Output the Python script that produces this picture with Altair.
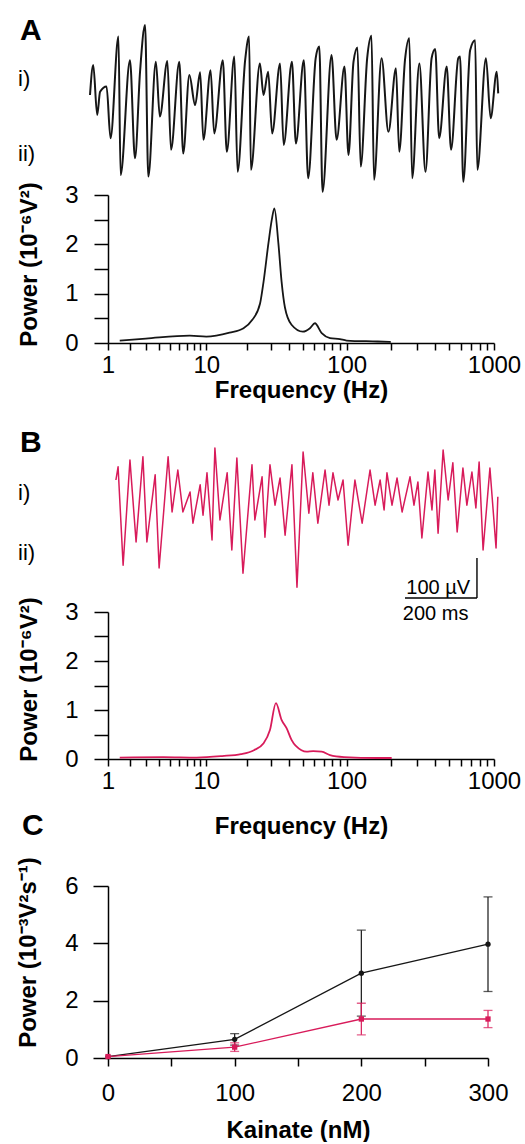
import altair as alt
import pandas as pd

FONT = "Liberation Sans"
BLACK = "#161616"
RED = "#d81b5a"

# ---------------- Panel A i): field potential trace (time in ms, voltage in µV)
traceA_t = [0, 9, 20, 28, 46, 57, 79, 85, 111, 125, 139, 153, 162, 183, 194, 215, 225, 248,
            259, 276, 292, 306, 315, 335, 345, 369, 380, 401, 410, 431, 442, 447, 472, 482,
            495, 506, 528, 538, 561, 572, 594, 606, 627, 637, 646, 671, 685, 707, 718, 732,
            743, 752, 770, 782, 789, 810, 829, 850, 859, 875, 887, 895, 915, 932, 949, 959,
            970, 991, 1003, 1023, 1028, 1037, 1056, 1070, 1076, 1100, 1113, 1130, 1134]
traceA_v = [0, 75, -50, 8, 21, -108, 146, -200, 87, -158, 58, 175, -204, 83, -54, 85, -137, 83,
            -146, 50, -25, 57, -112, 62, -96, 87, -142, 96, -192, 87, 146, -187, 79, 0,
            58, -96, 79, -125, 83, -121, 87, -208, 92, 121, -242, 100, -112, 71, -150, 83,
            119, -179, 92, 148, -212, 92, -92, 67, -142, 87, 142, -208, 79, -192, 92, 115,
            -108, 71, -137, 92, 96, -217, 112, 137, -187, 92, -58, 58, 4]

# ---------------- Panel B i): field potential trace (time in ms, voltage in µV)
traceB_t = [72, 78, 92, 111, 128, 147, 158, 181, 192, 217, 228, 244, 258, 278, 286, 306, 314,
            325, 339, 347, 361, 381, 394, 408, 425, 450, 458, 478, 486, 500, 514, 528, 542,
            561, 575, 592, 608, 619, 633, 653, 664, 675, 689, 703, 717, 736, 756, 778, 792,
            806, 817, 825, 839, 853, 867, 889, 900, 911, 922, 939, 950, 958, 967, 981, 995,
            1008, 1020, 1036, 1047, 1061, 1072, 1081, 1092, 1111, 1128, 1133]
traceB_v = [50, 83, -163, 100, -105, 108, -105, 63, -170, 108, -30, 75, -30, 20, -58, 38, -38,
            68, -100, 130, -50, 68, -125, 105, -183, 88, -50, 58, -93, 88, -13, 55, -88,
            88, -218, 120, -33, 68, -58, 75, -13, 68, 0, 50, -113, 50, -58, 75, -13,
            50, -25, 68, -13, 55, -30, 58, -13, 45, -95, 70, -25, 75, -83, 125, 0,
            93, -80, 80, -13, 70, -20, 95, -125, 80, -120, 8]

# scale bar (200 ms, 100 µV)
bar_t_end = 1075
bar_v_low = -245
bar_ms = 200
bar_uv = 100

# ---------------- Panel A ii) / B ii): power spectra (frequency Hz, power 1e-6 V^2)
specA_f = [1.5, 3.0, 7.4, 10, 15, 19, 22, 25, 26.5, 28.7, 30.3, 31.6, 33.7, 35.5, 37.5, 41.7,
           50, 56, 60.6, 67.5, 77, 90, 100, 163, 200]
specA_p = [0.05, 0.09, 0.15, 0.13, 0.21, 0.30, 0.47, 0.80, 1.25, 2.03, 2.50, 2.73, 2.03, 1.25,
           0.72, 0.37, 0.23, 0.30, 0.40, 0.20, 0.10, 0.08, 0.05, 0.03, 0.02]
specB_f = [1.5, 4.4, 8.4, 13.2, 18.2, 22.6, 26.5, 29.4, 32.4, 35.5, 38.5, 41.7, 48.9, 53, 59,
           67.5, 77, 96, 163, 203]
specB_p = [0.03, 0.04, 0.03, 0.06, 0.10, 0.18, 0.32, 0.59, 1.14, 0.80, 0.63, 0.39, 0.18, 0.15,
           0.16, 0.15, 0.08, 0.04, 0.02, 0.02]

freq_ticks = [1, 2, 3, 4, 5, 6, 7, 8, 9, 10, 20, 30, 40, 50, 60, 70, 80, 90,
              100, 200, 300, 400, 500, 600, 700, 800, 900, 1000]
power_ticks = [0, 0.5, 1, 1.5, 2, 2.5, 3]

# ---------------- Panel C: power vs kainate
kainate = [0, 100, 200, 300]
black_mean = [0.05, 0.65, 2.96, 3.97]
black_sem = [0, 0.2, 1.5, 1.65]
red_mean = [0.05, 0.38, 1.36, 1.36]
red_sem = [0, 0.15, 0.55, 0.3]


def label(text, x, y, size, bold=False, align="left"):
    return alt.Chart(pd.DataFrame({"s": [text]})).mark_text(
        align=align, baseline="alphabetic", fontSize=size, font=FONT,
        fontWeight="bold" if bold else "normal", color="black"
    ).encode(text="s:N", x=alt.value(x), y=alt.value(y))


def trace(t, v, color, ydom, height, width_px=1.6, interp="linear"):
    df = pd.DataFrame({"t": t, "v": v})
    return alt.Chart(df).mark_line(color=color, strokeWidth=width_px, interpolate=interp,
                                   strokeJoin="round").encode(
        x=alt.X("t:Q", scale=alt.Scale(domain=[50, 1139], nice=False, zero=False), axis=None),
        y=alt.Y("v:Q", scale=alt.Scale(domain=ydom, nice=False, zero=False), axis=None),
    ).properties(width=392, height=height)


def spectrum(f, p, color, height, title_x_y, title_y_y):
    df = pd.DataFrame({"f": f, "p": p})
    return alt.Chart(df).mark_line(color=color, strokeWidth=1.8, interpolate="monotone").encode(
        x=alt.X("f:Q",
                scale=alt.Scale(type="symlog", constant=1.5, domain=[1, 1000], nice=False, zero=False),
                axis=alt.Axis(values=freq_ticks, tickSize=7, labelPadding=3, labelFlush=False,
                              labelOverlap=False,
                              labelExpr="(datum.value == 1 || datum.value == 10 || datum.value == 100 || datum.value == 1000) ? format(datum.value, 'd') : ''",
                              title="Frequency (Hz)", titleY=title_x_y, titleBaseline="alphabetic")),
        y=alt.Y("p:Q", scale=alt.Scale(domain=[0, 3], nice=False, zero=False),
                axis=alt.Axis(values=power_ticks, tickSize=14, labelPadding=16, labelFlush=False,
                              labelExpr="datum.value % 1 == 0 ? format(datum.value, 'd') : ''",
                              title="Power (10⁻⁶V²)", titleX=-72, titleY=title_y_y,
                              titleBaseline="alphabetic")),
    ).properties(width=386, height=height)


# ---- Panel A trace with labels
anchor = alt.Chart(pd.DataFrame({"a": [0]})).mark_rect(opacity=0).encode(
    x=alt.value(-108), x2=alt.value(-107), y=alt.value(-20), y2=alt.value(-19))
p1 = alt.layer(
    trace(traceA_t, traceA_v, BLACK, [-250, 187.5], 175, 2.0, "monotone"),
    anchor,
    label("A", -88, 20, 30, True),
    label("i)", -90, 66, 22),
    label("ii)", -90, 141, 22),
)

p2 = spectrum(specA_f, specA_p, BLACK, 148, 54, 69)

# ---- Panel B trace with scale bar and labels
bar_df = pd.DataFrame({
    "t": [bar_t_end, bar_t_end - bar_ms],
    "t2": [bar_t_end, bar_t_end],
    "v": [bar_v_low + bar_uv, bar_v_low],
    "v2": [bar_v_low, bar_v_low],
})
bar = alt.Chart(bar_df).mark_rule(color="black", strokeWidth=1.4).encode(
    x="t:Q", x2="t2:Q", y="v:Q", y2="v2:Q")
bar_txt = pd.DataFrame({"t": [bar_t_end - 19, bar_t_end - 206], "v": [bar_v_low + 10, bar_v_low - 55],
                        "s": ["100 µV", "200 ms"]})
bar_t1 = alt.Chart(bar_txt.iloc[[0]]).mark_text(align="right", baseline="alphabetic", fontSize=20,
                                                 font=FONT, color="black").encode(
    x="t:Q", y="v:Q", text="s:N")
bar_t2 = alt.Chart(bar_txt.iloc[[1]]).mark_text(align="left", baseline="alphabetic", fontSize=20,
                                                 font=FONT, color="black").encode(
    x="t:Q", y="v:Q", text="s:N")
p3 = alt.layer(
    trace(traceB_t, traceB_v, RED, [-280, 392.5], 269, 1.5, "linear"),
    bar, bar_t1, bar_t2,
    label("B", -88, 109, 30, True),
    label("i)", -90, 157, 22),
    label("ii)", -90, 217, 22),
)

p4 = spectrum(specB_f, specB_p, RED, 147, 74, 67)

spacer = alt.Chart(pd.DataFrame({"a": [0]})).mark_rect(opacity=0).encode(
    x=alt.value(0), y=alt.value(0)).properties(width=1, height=127)

# ---- Panel C
xC = alt.X("k:Q", scale=alt.Scale(domain=[0, 300], nice=False),
           axis=alt.Axis(values=[0, 50, 100, 150, 200, 250, 300], tickSize=8, labelPadding=15,
                         labelFlush=False, labelExpr="datum.value % 100 == 0 ? datum.label : ''",
                         title="Kainate (nM)", titleY=79, titleBaseline="alphabetic"))
yC = alt.Y("m:Q", scale=alt.Scale(domain=[0, 6], nice=False),
           axis=alt.Axis(values=[0, 1, 2, 3, 4, 5, 6], tickSize=15, labelPadding=15, labelFlush=False,
                         labelExpr="datum.value % 2 == 0 ? datum.label : ''",
                         title="Power (10⁻³V²s⁻¹)", titleX=-73, titleY=66, titleBaseline="alphabetic"))


def series(mean, sem, color, shape, size):
    df = pd.DataFrame({"k": kainate, "m": mean, "e": sem})
    df["lo"] = df["m"] - df["e"]
    df["hi"] = df["m"] + df["e"]
    base = alt.Chart(df)
    line = base.mark_line(color=color, strokeWidth=1.3).encode(x=xC, y=yC)
    pts = base.mark_point(color=color, filled=True, opacity=1, shape=shape, size=size).encode(x="k:Q", y="m:Q")
    err = base.transform_filter("datum.e > 0").mark_rule(color=color, strokeWidth=1.2).encode(
        x="k:Q", y="lo:Q", y2="hi:Q")
    cap_lo = base.transform_filter("datum.e > 0").mark_tick(color=color, orient="horizontal", size=9,
                                                            thickness=1.3).encode(x="k:Q", y="lo:Q")
    cap_hi = base.transform_filter("datum.e > 0").mark_tick(color=color, orient="horizontal", size=9,
                                                            thickness=1.3).encode(x="k:Q", y="hi:Q")
    return [line, err, cap_lo, cap_hi, pts]


p5 = alt.layer(
    *series(black_mean, black_sem, BLACK, "circle", 28),
    *series(red_mean, red_sem, RED, "square", 28),
    label("C", -86, -51, 30, True),
).properties(width=380, height=172)

chart = alt.vconcat(p1, p2, p3, p4, spacer, p5, spacing=0, bounds="flush").properties(
    padding=0
).configure_view(strokeWidth=0).configure_axis(
    grid=False, domainColor="black", domainWidth=1.5, tickColor="black", tickWidth=1.5,
    labelColor="black", titleColor="black", labelFont=FONT, titleFont=FONT,
    labelFontSize=24, titleFontSize=24, titleFontWeight="bold"
)

chart.save("out.html", embed_options={"renderer": "svg", "actions": False})
